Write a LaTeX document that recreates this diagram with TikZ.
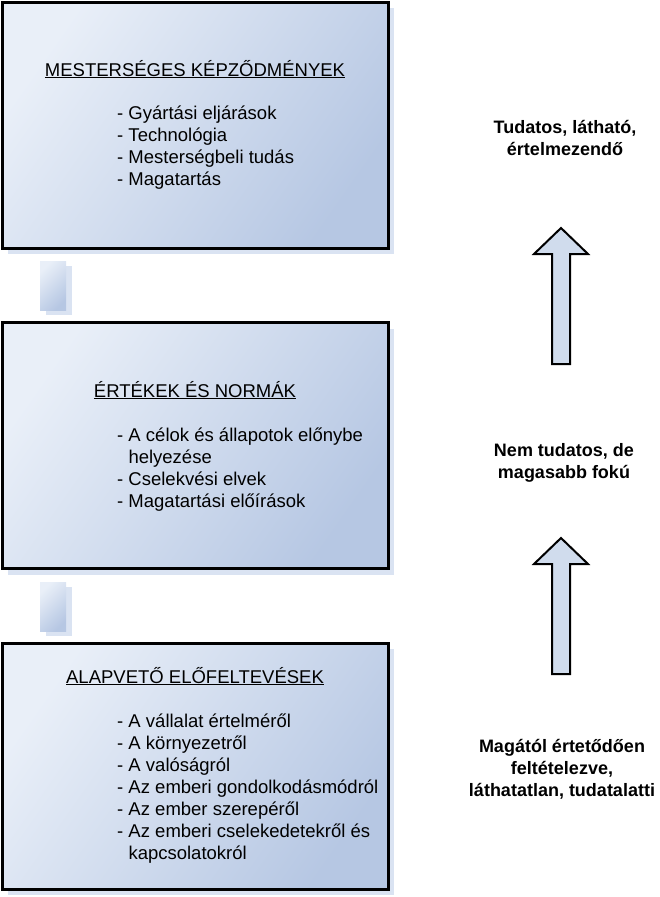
\documentclass[tikz,border=0pt]{standalone}
\usepackage{fontspec}
\setmainfont{Liberation Sans}
\usetikzlibrary{shadows}
\definecolor{boxlight}{RGB}{233,239,248}
\definecolor{boxdark}{RGB}{182,199,227}
\definecolor{shadowblue}{RGB}{218,227,242}
\definecolor{arrowfill}{RGB}{208,220,237}
\tikzstyle{layer} = [rectangle, draw=black, line width=3pt, minimum width=386pt, minimum height=246pt, inner sep=0pt, top color=boxlight, bottom color=boxdark, shading angle=55, drop shadow={shadow xshift=6pt, shadow yshift=-6pt, fill=shadowblue, opacity=1, draw=none}]
\tikzstyle{linkbar} = [rectangle, minimum width=26pt, minimum height=49pt, inner sep=0pt, top color=boxlight, bottom color=boxdark, shading angle=45, drop shadow={shadow xshift=6pt, shadow yshift=-5pt, fill=shadowblue, opacity=1, draw=none}]
\tikzstyle{heading} = [anchor=base, inner sep=0pt, font=\fontsize{18.5}{22}\selectfont]
\tikzstyle{itemlist} = [anchor=base west, align=left, inner sep=0pt, font=\fontsize{18.5}{22}\selectfont]
\tikzstyle{levellabel} = [anchor=base, align=center, inner sep=0pt, font=\bfseries\fontsize{18}{22}\selectfont]
\tikzstyle{uparrow} = [draw=black, line width=2pt, fill=arrowfill, line join=miter]

\begin{document}
\begin{tikzpicture}[x=1pt, y=-1pt, node distance=320.5pt]
    \useasboundingbox (0,0) rectangle (660,897);

    % Layers
    \node (artefacts) [layer] at (195,125) {};
    \node (values) [layer, below of=artefacts] {};
    \node (assumptions) [layer, below of=values] {};

    % Links between layers
    \node (link1) [linkbar] at (53,285.5) {};
    \node (link2) [linkbar] at (53,606.5) {};

    % Layer texts (lists sit on their last baseline)
    \node (artefactshead) [heading] at (195,76) {\underline{MESTERSÉGES KÉPZŐDMÉNYEK}};
    \node (artefactslist) [itemlist] at (117,185) {- Gyártási eljárások\\- Technológia\\- Mesterségbeli tudás\\- Magatartás};
    \node (valueshead) [heading] at (195,397) {\underline{ÉRTÉKEK ÉS NORMÁK}};
    \node (valueslist) [itemlist] at (117,507) {- A célok és állapotok előnybe\\\hphantom{-~}helyezése\\- Cselekvési elvek\\- Magatartási előírások};
    \node (assumptionshead) [heading] at (195,683) {\underline{ALAPVETŐ ELŐFELTEVÉSEK}};
    \node (assumptionslist) [itemlist] at (117,859) {- A vállalat értelméről\\- A környezetről\\- A valóságról\\- Az emberi gondolkodásmódról\\- Az ember szerepéről\\- Az emberi cselekedetekről és\\\hphantom{-~}kapcsolatokról};

    % Level labels
    \node (visible) [levellabel] at (565,155) {Tudatos, látható,\\értelmezendő};
    \node (higher) [levellabel] at (564,478) {Nem tudatos, de\\magasabb fokú};
    \node (hidden) [levellabel] at (562,796) {Magától értetődően\\feltételezve,\\láthatatlan, tudatalatti};

    % Arrows
    \draw [uparrow] (552,364) -- (552,254) -- (534,254) -- (561,228) -- (588,254) -- (570,254) -- (570,364) -- cycle;
    \draw [uparrow] (552,674) -- (552,564) -- (534,564) -- (561,538) -- (588,564) -- (570,564) -- (570,674) -- cycle;
\end{tikzpicture}
\end{document}
